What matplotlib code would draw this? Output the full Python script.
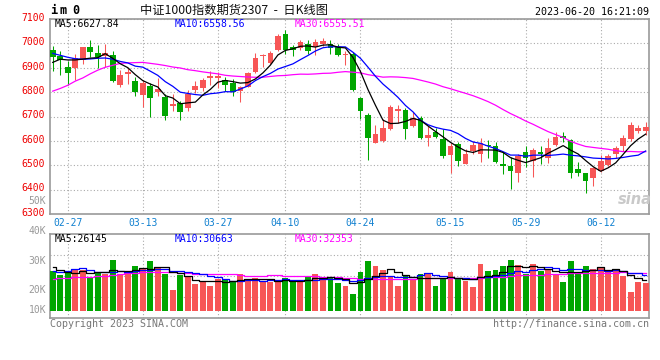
import numpy as np
import matplotlib
matplotlib.use("Agg")
import matplotlib.pyplot as plt
from matplotlib.transforms import ScaledTranslation

plt.rcParams['font.family'] = ['DejaVu Sans Mono', 'Noto Sans CJK SC']

# ---------------- data ----------------
opens = [6971, 6950, 6905, 6898, 6933, 6984, 6959, 6950, 6954, 6828,
         6876, 6845, 6790, 6827, 6800, 6778, 6742, 6756, 6735, 6809,
         6815, 6858, 6858, 6850, 6838, 6804, 6823, 6881, 6947, 6918,
         6971, 7040, 6984, 6981, 6997, 6984, 6999, 6997, 6984, 6951,
         6956, 6774, 6708, 6592, 6599, 6647, 6722, 6725, 6660, 6692,
         6611, 6636, 6606, 6542, 6588, 6506, 6558, 6547, 6585, 6581,
         6504, 6495, 6468, 6554, 6517, 6553, 6531, 6585, 6621, 6605,
         6483, 6470, 6449, 6476, 6500, 6547, 6577, 6606, 6640, 6639]
highs = [6988, 6970, 6929, 6956, 6986, 7015, 6995, 6997, 6967, 6891,
         6899, 6864, 6850, 6838, 6858, 6794, 6793, 6765, 6809, 6845,
         6858, 6885, 6883, 6864, 6854, 6825, 6881, 6959, 6956, 6970,
         7038, 7056, 6995, 7015, 7015, 7019, 7022, 7015, 6997, 6970,
         6965, 6779, 6716, 6667, 6690, 6746, 6749, 6733, 6719, 6704,
         6659, 6651, 6647, 6592, 6594, 6565, 6599, 6610, 6602, 6595,
         6554, 6535, 6545, 6581, 6572, 6579, 6610, 6637, 6637, 6607,
         6513, 6470, 6493, 6542, 6545, 6579, 6626, 6677, 6667, 6678]
lows = [6885, 6872, 6831, 6850, 6915, 6943, 6899, 6902, 6840, 6820,
        6834, 6786, 6741, 6697, 6786, 6684, 6724, 6684, 6724, 6798,
        6806, 6828, 6815, 6806, 6786, 6759, 6820, 6877, 6905, 6915,
        6967, 6956, 6947, 6971, 6958, 6954, 6988, 6956, 6947, 6913,
        6806, 6690, 6521, 6590, 6596, 6644, 6674, 6606, 6656, 6607,
        6577, 6610, 6528, 6467, 6497, 6504, 6547, 6513, 6528, 6508,
        6463, 6401, 6431, 6493, 6452, 6504, 6509, 6579, 6595, 6446,
        6455, 6388, 6415, 6472, 6497, 6531, 6558, 6599, 6633, 6626]
closes = [6943, 6933, 6877, 6940, 6984, 6963, 6943, 6959, 6845, 6872,
          6883, 6800, 6836, 6775, 6812, 6704, 6752, 6718, 6794, 6827,
          6851, 6866, 6866, 6830, 6802, 6821, 6877, 6940, 6954, 6962,
          7029, 6971, 6973, 7005, 6970, 7005, 7011, 6981, 6954, 6956,
          6810, 6722, 6611, 6630, 6651, 6741, 6729, 6648, 6692, 6611,
          6626, 6615, 6538, 6579, 6517, 6545, 6583, 6592, 6577, 6513,
          6497, 6476, 6538, 6531, 6561, 6547, 6569, 6615, 6611, 6468,
          6468, 6435, 6489, 6516, 6540, 6569, 6610, 6667, 6651, 6655]
volumes_k = [33.9, 30.0, 33.0, 35.0, 34.5, 28.9, 33.0, 31.1, 42.9, 31.1,
             31.1, 37.8, 36.1, 42.0, 37.0, 31.1, 17.6, 30.5, 29.4, 22.7,
             24.1, 21.0, 27.2, 26.6, 25.2, 31.1, 25.2, 27.7, 24.6, 24.6,
             24.6, 28.0, 24.9, 24.9, 28.3, 31.1, 28.3, 28.3, 23.8, 21.0,
             14.3, 32.8, 42.0, 37.8, 34.5, 29.4, 21.0, 29.4, 27.2, 31.1,
             31.1, 21.0, 27.7, 32.8, 26.9, 25.2, 20.2, 39.5, 33.6, 34.5,
             37.8, 42.9, 38.7, 31.1, 39.5, 33.6, 34.5, 31.1, 24.4, 42.0,
             31.1, 37.8, 35.3, 37.0, 32.8, 35.3, 29.4, 16.0, 24.4, 23.5]
ma5 = [6922, 6935, 6932, 6932, 6935.4, 6939.4, 6941.4, 6957.8, 6938.8, 6916.4,
       6900.4, 6871.8, 6847.2, 6833.2, 6821.2, 6785.4, 6775.8, 6752.2, 6756.0, 6759.0,
       6788.4, 6811.2, 6840.8, 6848.0, 6843.0, 6837.0, 6839.2, 6854.0, 6878.8, 6910.8,
       6952.4, 6971.2, 6977.8, 6988.0, 6989.6, 6984.8, 6992.8, 6994.4, 6984.2, 6981.4,
       6942.4, 6884.6, 6810.6, 6745.8, 6684.8, 6671.0, 6672.4, 6679.8, 6692.2, 6684.2,
       6661.2, 6638.4, 6616.4, 6593.8, 6575.0, 6558.8, 6552.4, 6563.2, 6562.8, 6562.0,
       6552.4, 6531.0, 6520.2, 6511.0, 6520.6, 6530.6, 6549.2, 6564.6, 6580.6, 6562.0,
       6546.2, 6519.4, 6494.2, 6475.2, 6489.6, 6509.8, 6544.8, 6580.4, 6607.4, 6627.8]
ma10 = [6959, 6951, 6943, 6937, 6935, 6936, 6939, 6940, 6935, 6925.9,
        6919.9, 6906.6, 6902.5, 6886.0, 6868.8, 6842.9, 6823.8, 6799.7, 6794.6, 6790.1,
        6786.9, 6793.5, 6796.5, 6802.0, 6801.0, 6812.7, 6825.2, 6847.4, 6863.4, 6876.9,
        6894.7, 6905.2, 6915.9, 6933.4, 6950.2, 6968.6, 6982.0, 6986.1, 6986.1, 6985.5,
        6963.6, 6938.7, 6902.5, 6865.0, 6833.1, 6806.7, 6778.5, 6745.2, 6719.0, 6684.5,
        6666.1, 6655.4, 6648.1, 6643.0, 6629.6, 6610.0, 6595.4, 6589.8, 6578.3, 6568.5,
        6555.6, 6541.7, 6541.7, 6536.9, 6541.3, 6541.5, 6540.1, 6542.4, 6545.8, 6541.3,
        6538.4, 6534.3, 6529.4, 6527.9, 6525.8, 6528.0, 6532.1, 6537.3, 6541.3, 6558.6]
ma30 = [6804, 6815, 6828, 6845, 6858, 6875, 6890, 6902, 6910, 6918,
        6920, 6921, 6922, 6918, 6914, 6909, 6903, 6899, 6892, 6888,
        6883, 6879, 6875, 6869, 6866, 6864, 6862, 6861, 6861, 6864.3,
        6867.2, 6868.4, 6871.6, 6873.8, 6873.3, 6874.7, 6877.0, 6877.7, 6881.4, 6884.2,
        6881.7, 6879.1, 6871.6, 6866.8, 6861.4, 6862.7, 6861.9, 6859.6, 6856.2, 6849.0,
        6841.5, 6833.1, 6822.2, 6813.8, 6804.3, 6795.1, 6785.3, 6773.7, 6761.1, 6746.2,
        6728.4, 6711.9, 6697.4, 6681.6, 6668.0, 6652.7, 6638.0, 6625.8, 6614.4, 6598.1,
        6586.7, 6577.1, 6573.1, 6569.3, 6565.6, 6559.8, 6555.9, 6556.5, 6555.1, 6555.5]
vol_ma5 = [37.2, 34.5, 33.1, 32.2, 33.28, 32.28, 32.88, 32.5, 34.08, 33.4,
           33.84, 34.8, 35.8, 35.62, 36.8, 36.8, 32.76, 31.64, 29.12, 26.26,
           24.86, 25.54, 24.88, 24.32, 24.82, 26.22, 27.06, 27.16, 26.76, 26.64,
           25.34, 25.9, 25.34, 25.4, 26.14, 27.44, 27.5, 28.18, 27.96, 26.5,
           23.14, 24.04, 26.78, 29.58, 32.28, 35.3, 32.94, 30.42, 28.3, 27.62,
           27.96, 27.96, 27.62, 28.74, 27.9, 26.72, 26.56, 28.92, 29.08, 30.6,
           33.12, 37.66, 37.5, 37.0, 38.0, 37.16, 35.48, 33.96, 32.62, 33.12,
           32.62, 33.28, 34.12, 36.64, 34.8, 35.64, 33.96, 30.1, 27.58, 25.72]
vol_ma10 = [33.9, 33.1, 33.6, 35.0, 35.8, 34.5, 33.1, 33.1, 33.1, 33.34,
            33.06, 33.84, 34.15, 34.85, 35.1, 35.32, 33.78, 33.72, 32.37, 31.53,
            30.83, 29.15, 28.26, 26.72, 25.54, 25.54, 26.3, 26.02, 25.54, 25.73,
            25.78, 26.48, 26.25, 26.08, 26.39, 26.39, 26.7, 26.76, 26.68, 26.32,
            25.29, 25.77, 27.48, 28.77, 29.39, 29.22, 28.49, 28.6, 28.94, 29.95,
            31.63, 30.45, 29.02, 28.52, 27.76, 27.34, 27.26, 28.27, 28.91, 29.25,
            29.92, 32.11, 33.21, 33.04, 34.3, 35.14, 36.57, 35.73, 34.81, 35.56,
            34.89, 34.38, 34.04, 34.63, 33.96, 34.13, 33.62, 32.11, 32.11, 30.26]
vol_ma30 = [26.9, 27.5, 28.0, 28.3, 28.6, 28.9, 29.1, 29.7, 30.3, 30.8,
            31.6, 32.2, 32.5, 32.8, 32.8, 32.8, 32.5, 32.2, 31.9, 31.4,
            31.1, 31.4, 31.4, 31.4, 31.1, 30.3, 29.7, 29.4, 29.1, 30.2,
            29.89, 29.82, 29.55, 29.22, 29.01, 29.08, 28.93, 28.83, 28.2, 27.86,
            27.3, 27.13, 27.33, 27.19, 27.11, 27.05, 27.16, 27.13, 27.05, 27.33,
            27.57, 27.57, 27.58, 27.79, 27.85, 27.65, 27.48, 27.88, 28.18, 28.51,
            28.95, 29.44, 29.9, 30.11, 30.48, 30.57, 30.77, 30.87, 30.89, 31.59,
            32.15, 32.31, 32.09, 32.06, 32.01, 32.2, 32.48, 32.04, 31.94, 31.69]
date_idx = [2, 12, 22, 31, 41, 53, 63, 73]
date_labels = ['02-27', '03-13', '03-27', '04-10', '04-24', '05-15', '05-29', '06-12']
price_ticks = [6300, 6400, 6500, 6600, 6700, 6800, 6900, 7000, 7100]
vol_tick_labels = ['50K', '40K', '30K', '20K', '10K']
title_text = '中证1000指数期货2307  -  日K线图'
symbol_text = 'im0'
time_text = '2023-06-20 16:21:09'
ma_price_labels = ['MA5:6627.84', 'MA10:6558.56', 'MA30:6555.51']
ma_vol_labels = ['MA5:26145', 'MA10:30663', 'MA30:32353']

# ---------------- drawing ----------------
W, H = 660, 360
fig = plt.figure(figsize=(6.6, 3.6), dpi=100)
fig.patch.set_facecolor('white')


def fx(px):
    return px / W


def fy(py):
    return 1 - py / H


def ptext(px, py, s, **kw):
    fig.text(fx(px), fy(py), s, **kw)


RED = '#f75656'
GREEN = '#00a600'
GRID = '#aaaaaa'
SPINE = '#9a9a9a'

o = np.array(opens, float)
h = np.array(highs, float)
l = np.array(lows, float)
c = np.array(closes, float)
v = np.array(volumes_k, float)
n = len(c)
x = np.arange(n)
up = c >= o
cols = np.where(up, RED, GREEN)

x0, x1 = -0.36, 79.44

ax = fig.add_axes([fx(50), fy(214), fx(649) - fx(50), fy(19) - fy(214)])
axv = fig.add_axes([fx(50), fy(318), fx(649) - fx(50), fy(234) - fy(318)])

# candles
ax.vlines(x, l, h, colors=cols, linewidth=0.75, zorder=3)
body_bottom = np.minimum(o, c)
body_h = np.maximum(np.abs(c - o), 3.5)
ax.bar(x, body_h, bottom=body_bottom, width=0.76, color=cols, linewidth=0, zorder=4)

ax.plot(x, ma30, color='#ff00ff', lw=0.9, zorder=5)
ax.plot(x, ma10, color='#0000ff', lw=0.9, zorder=5)
ax.plot(x, ma5, color='black', lw=0.9, zorder=6)

ax.set_xlim(x0, x1)
ax.set_ylim(6300, 7100)
ax.set_yticks(price_ticks)
ax.set_yticklabels([str(t) for t in price_ticks])
ax.tick_params(axis='y', length=0, pad=4, labelcolor='#ee0000', labelsize=7)
for lab in ax.get_yticklabels():
    lab.set_transform(lab.get_transform() + ScaledTranslation(0, 2.2 / 100, fig.dpi_scale_trans))
ax.set_xticks(date_idx)
ax.set_xticklabels(date_labels)
ax.tick_params(axis='x', length=0, pad=3.2, labelcolor='#1080d0', labelsize=7)
ax.grid(True, color=GRID, linestyle=(0, (1, 2)), linewidth=0.8)
ax.set_axisbelow(True)
for sp in ax.spines.values():
    sp.set_color(SPINE)
    sp.set_linewidth(1.2)

# volume
axv.bar(x, v, width=0.78, color=cols, linewidth=0, zorder=3)
axv.plot(x, vol_ma30, color='#ff00ff', lw=0.9, drawstyle='steps-mid', zorder=4)
axv.plot(x, vol_ma10, color='#0000ff', lw=0.9, drawstyle='steps-mid', zorder=4)
axv.plot(x, vol_ma5, color='black', lw=0.9, drawstyle='steps-mid', zorder=5)
vy0, vy1 = -5.9, 64.7
axv.set_xlim(x0, x1)
axv.set_ylim(vy0, vy1)
axv.set_yticks([vy0 + (vy1 - vy0) * f for f in (0.25, 0.5, 0.75)])
axv.set_yticklabels([])
axv.set_xticks(date_idx)
axv.set_xticklabels([])
axv.tick_params(length=0)
axv.grid(True, color=GRID, linestyle=(0, (1, 2)), linewidth=0.8)
axv.set_axisbelow(True)
for sp in axv.spines.values():
    sp.set_color(SPINE)
    sp.set_linewidth(1.2)

# texts
ptext(50.5, 11, symbol_text[0], ha='left', va='center', fontsize=8.5, fontweight='bold', color='black')
ptext(59.5, 11, symbol_text[1], ha='left', va='center', fontsize=8.5, fontweight='bold', color='black')
ptext(72.5, 11, symbol_text[2], ha='left', va='center', fontsize=8.5, fontweight='bold', color='black')
ptext(140, 10, title_text, ha='left', va='center', fontsize=8.8, color='#111111',
      family=['Noto Sans CJK SC', 'DejaVu Sans'])
ptext(649, 12, time_text, ha='right', va='center', fontsize=7.2, color='black')

ptext(55, 24, ma_price_labels[0], ha='left', va='center', fontsize=7, color='black')
ptext(174.5, 24, ma_price_labels[1], ha='left', va='center', fontsize=7, color='#0000ff')
ptext(294.5, 24, ma_price_labels[2], ha='left', va='center', fontsize=7, color='#ff00ff')

ptext(55, 238.5, ma_vol_labels[0], ha='left', va='center', fontsize=7, color='black')
ptext(174.5, 238.5, ma_vol_labels[1], ha='left', va='center', fontsize=7, color='#0000ff')
ptext(294.5, 238.5, ma_vol_labels[2], ha='left', va='center', fontsize=7, color='#ff00ff')

for lab, py in zip(vol_tick_labels, [201, 231, 261, 290, 310]):
    ptext(46, py, lab, ha='right', va='center', fontsize=7, color='#999999')

ptext(50, 324, 'Copyright 2023 SINA.COM', ha='left', va='center', fontsize=7.2, color='#777777')
ptext(649, 324, 'http://finance.sina.com.cn', ha='right', va='center', fontsize=7.2, color='#777777')

ptext(635, 200, 'sina', ha='center', va='center', fontsize=10.5, fontweight='bold',
      style='italic', color='#c9c9c9', family=['DejaVu Sans'])

fig.savefig('out.png', dpi=100, facecolor='white')
